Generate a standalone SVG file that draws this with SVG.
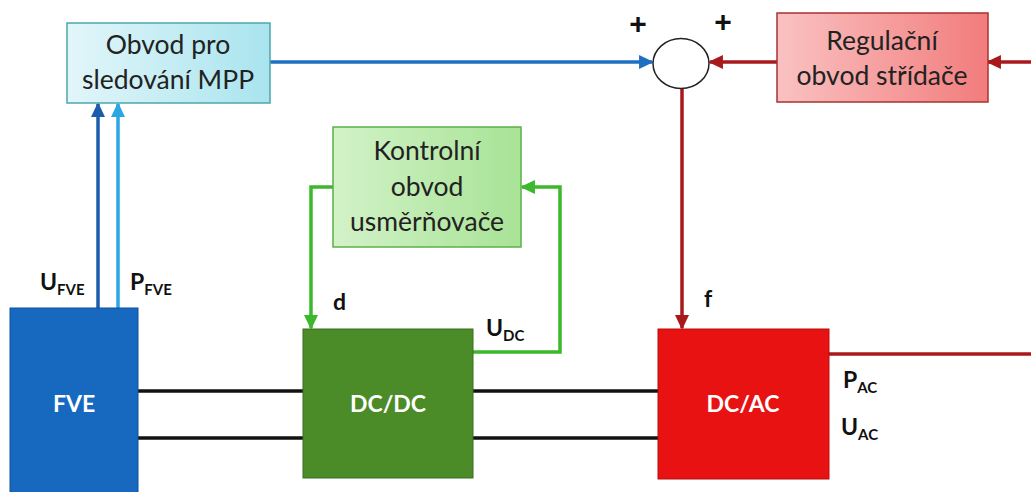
<svg xmlns="http://www.w3.org/2000/svg" width="1031" height="492" viewBox="0 0 1031 492">
<style>
.t{font-family:Lato,"Open Sans","Liberation Sans",sans-serif;font-size:26.5px;fill:#222;text-anchor:middle}
.w{font-family:Lato,"Open Sans","Liberation Sans",sans-serif;font-size:23px;font-weight:bold;fill:#fff;text-anchor:middle}
.l{font-family:Lato,"Open Sans","Liberation Sans",sans-serif;font-size:23px;font-weight:bold;fill:#111}
.p{font-family:"Liberation Sans",sans-serif;font-size:30px;font-weight:bold;fill:#111;text-anchor:middle}
.s{font-size:15px}
.c{fill:none;stroke-width:3.5}
.blk{stroke:#111}
.red{stroke:#a8191c}
.grn{stroke:#3cb82c}
</style>
<defs>
<linearGradient id="gb" x1="0" y1="0" x2="1" y2="0"><stop offset="0" stop-color="#e2f6fa"/><stop offset="1" stop-color="#a9e4ee"/></linearGradient>
<linearGradient id="gg" x1="0" y1="0" x2="1" y2="0"><stop offset="0" stop-color="#d2f2c8"/><stop offset="1" stop-color="#a8e396"/></linearGradient>
<linearGradient id="gr" x1="0" y1="0" x2="1" y2="0"><stop offset="0" stop-color="#fac2c2"/><stop offset="1" stop-color="#f27c7c"/></linearGradient>
<marker id="mBlue" markerWidth="4.2" markerHeight="4" refX="3.7" refY="2" orient="auto" markerUnits="strokeWidth"><path d="M0,0 L4.2,2 L0,4 Z" fill="#1f6fc0"/></marker>
<marker id="mDBlue" markerWidth="4.2" markerHeight="4" refX="3.7" refY="2" orient="auto" markerUnits="strokeWidth"><path d="M0,0 L4.2,2 L0,4 Z" fill="#1b5cab"/></marker>
<marker id="mLBlue" markerWidth="4.2" markerHeight="4" refX="3.7" refY="2" orient="auto" markerUnits="strokeWidth"><path d="M0,0 L4.2,2 L0,4 Z" fill="#2aa6e4"/></marker>
<marker id="mRed" markerWidth="4.2" markerHeight="4" refX="3.7" refY="2" orient="auto" markerUnits="strokeWidth"><path d="M0,0 L4.2,2 L0,4 Z" fill="#a8191c"/></marker>
<marker id="mGrn" markerWidth="4.2" markerHeight="4" refX="3.7" refY="2" orient="auto" markerUnits="strokeWidth"><path d="M0,0 L4.2,2 L0,4 Z" fill="#3cb82c"/></marker>
</defs>

<g id="connectors">
<line class="c blk" x1="138" y1="391" x2="303" y2="391"/>
<line class="c blk" x1="138" y1="438" x2="303" y2="438"/>
<line class="c blk" x1="473" y1="391" x2="658" y2="391"/>
<line class="c blk" x1="473" y1="438" x2="658" y2="438"/>
<line class="c" stroke="#1b5cab" x1="98" y1="308" x2="98" y2="104" marker-end="url(#mDBlue)"/>
<line class="c" stroke="#2aa6e4" x1="118" y1="308" x2="118" y2="104" marker-end="url(#mLBlue)"/>
<line class="c" stroke="#1f6fc0" x1="270" y1="62" x2="652" y2="62" marker-end="url(#mBlue)"/>
<line class="c red" x1="1031" y1="62" x2="988" y2="62" marker-end="url(#mRed)"/>
<line class="c red" x1="777" y1="62" x2="710" y2="62" marker-end="url(#mRed)"/>
<line class="c red" x1="682" y1="88" x2="682" y2="328" marker-end="url(#mRed)"/>
<line class="c red" x1="829" y1="354" x2="1031" y2="354"/>
<polyline class="c grn" points="333,187 311,187 311,328" marker-end="url(#mGrn)"/>
<polyline class="c grn" points="473,352 560,352 560,187 522,187" marker-end="url(#mGrn)"/>
</g>

<g id="mpp">
<rect x="67" y="23" width="203" height="80" fill="url(#gb)" stroke="#4da6ae" stroke-width="1.5"/>
<text class="t" x="168" y="54">Obvod pro</text>
<text class="t" x="168" y="89">sledování MPP</text>
</g>

<g id="sum">
<ellipse cx="681" cy="63.5" rx="28" ry="25" fill="#fff" stroke="#222" stroke-width="1.5"/>
<text class="p" x="638" y="34">+</text>
<text class="p" x="723" y="32">+</text>
</g>

<g id="regulacni">
<rect x="777" y="13" width="211" height="89" fill="url(#gr)" stroke="#a83232" stroke-width="1.5"/>
<text class="t" x="882" y="50">Regulační</text>
<text class="t" x="882" y="85">obvod střídače</text>
</g>

<g id="kontrolni">
<rect x="333" y="127" width="188" height="120" fill="url(#gg)" stroke="#5cb04a" stroke-width="1.5"/>
<text class="t" x="427" y="160">Kontrolní</text>
<text class="t" x="427" y="196">obvod</text>
<text class="t" x="427" y="231">usměrňovače</text>
</g>

<g id="fve">
<rect x="10" y="308" width="128" height="190" fill="#1769c0" stroke="#10509a" stroke-width="1"/>
<text class="w" x="74" y="412">FVE</text>
<text class="l" x="40" y="290">U<tspan class="s" dy="5">FVE</tspan></text>
<text class="l" x="130" y="290">P<tspan class="s" dy="5">FVE</tspan></text>
</g>

<g id="dcdc">
<rect x="303" y="329" width="170" height="149" fill="#4b8b28" stroke="#3a6e1c" stroke-width="1"/>
<text class="w" x="388" y="412">DC/DC</text>
<text class="l" x="333" y="310">d</text>
<text class="l" x="486" y="336">U<tspan class="s" dy="5">DC</tspan></text>
</g>

<g id="dcac">
<rect x="658" y="329" width="171" height="150" fill="#e81212" stroke="#b80c0c" stroke-width="1"/>
<text class="w" x="743" y="412">DC/AC</text>
<text class="l" x="704" y="307">f</text>
<text class="l" x="843" y="388">P<tspan class="s" dy="5">AC</tspan></text>
<text class="l" x="841" y="435">U<tspan class="s" dy="5">AC</tspan></text>
</g>
</svg>
